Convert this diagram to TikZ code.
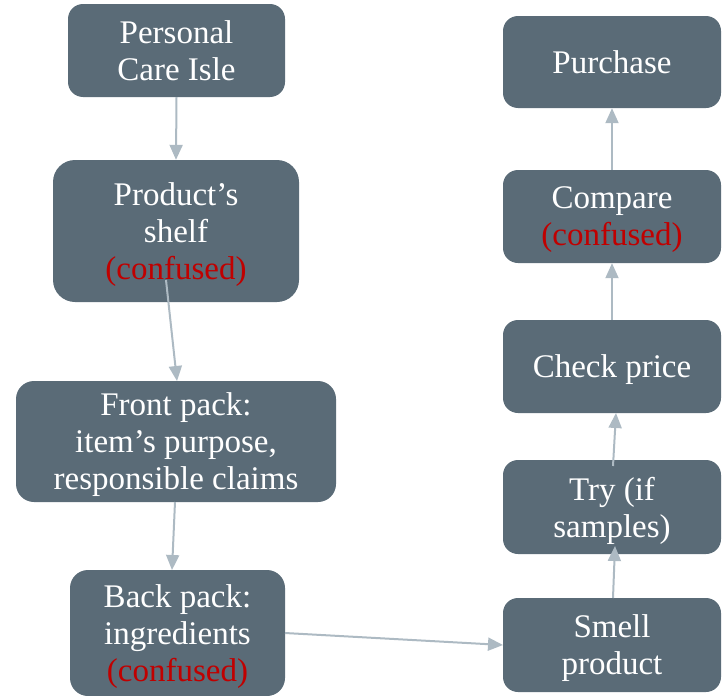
\documentclass[tikz,border=0pt]{standalone}
\usepackage{fontspec}
\setmainfont{Liberation Serif}
\usetikzlibrary{arrows.meta}
\definecolor{boxfill}{HTML}{5A6B77}
\definecolor{arrcol}{HTML}{ADBAC3}
\definecolor{conf}{HTML}{C00000}
\tikzset{
  stepbox/.style={fill=boxfill, text=white, rounded corners=15pt, align=center,
    font=\fontsize{33}{37}\selectfont, inner sep=0pt, text depth=-5pt},
  conn/.style={draw=arrcol, line width=2pt, -{Triangle[length=15pt,width=13pt]}}
}
\begin{document}
\begin{tikzpicture}[x=1pt,y=-1pt]
\useasboundingbox (0,0) rectangle (723,696);
\node[stepbox, minimum width=217pt, minimum height=93pt] (p) at (176.5,50.5) {Personal\\Care Isle};
\node[stepbox, minimum width=246pt, minimum height=142pt, rounded corners=22pt] (s) at (176,231) {Product’s\\shelf\\\textcolor{conf}{(confused)}};
\node[stepbox, minimum width=320pt, minimum height=121pt, rounded corners=18pt] (f) at (176,441.5) {Front pack:\\item’s purpose,\\responsible claims};
\node[stepbox, minimum width=215pt, minimum height=126pt, rounded corners=18pt] (b) at (177.5,633) {Back pack:\\ingredients\\\textcolor{conf}{(confused)}};
\node[stepbox, minimum width=218pt, minimum height=94pt] (sm) at (612,645) {Smell\\product};
\node[stepbox, minimum width=218pt, minimum height=94pt] (t) at (612,507) {Try (if\\samples)};
\node[stepbox, minimum width=218pt, minimum height=93pt] (c) at (612,366.5) {Check price};
\node[stepbox, minimum width=218pt, minimum height=93pt] (cm) at (612,216.5) {Compare\\\textcolor{conf}{(confused)}};
\node[stepbox, minimum width=218pt, minimum height=92pt] (pu) at (612,62) {Purchase};
\coordinate (s1) at (166,280);
\coordinate (f1) at (177,381);
\coordinate (f2) at (175,502);
\coordinate (b1) at (172,570);
\coordinate (b2) at (285,633);
\coordinate (sm1) at (503,645);
\coordinate (sm2) at (613,598);
\coordinate (t1) at (615,546);
\coordinate (t2) at (613,466);
\coordinate (c1) at (616,413);
\draw[conn] (p.south) -- (s.north);
\draw[conn] (s1) -- (f1);
\draw[conn] (f2) -- (b1);
\draw[conn] (b2) -- (sm1);
\draw[conn] (sm2) -- (t1);
\draw[conn] (t2) -- (c1);
\draw[conn] (c.north) -- (cm.south);
\draw[conn] (cm.north) -- (pu.south);
\end{tikzpicture}
\end{document}
